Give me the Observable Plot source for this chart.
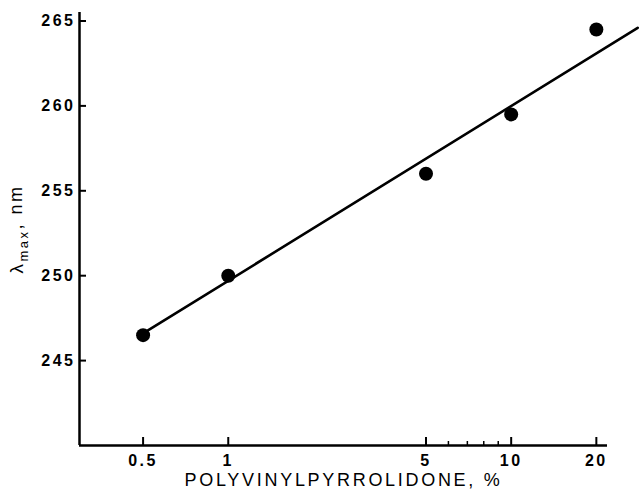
<!DOCTYPE html>
<html>
<head>
<meta charset="utf-8">
<script src="https://cdn.jsdelivr.net/npm/d3@7"></script>
<script src="https://cdn.jsdelivr.net/npm/@observablehq/plot@0.6"></script>
<style>
  body { margin: 0; background: #fff; }
  #chart svg { display: block; }
</style>
</head>
<body>
<div id="chart"></div>
<script>
// Data
const pvpPercent = [0.5, 1, 5, 10, 20];
const lambdaMax = [246.5, 250.0, 256.0, 259.5, 264.5];
// Fitted straight line (log x), endpoints as drawn
const fitPercent = [0.5, 28];
const fitLambda = [246.6, 264.6];
// Axis ticks
const xMajorTicks = [0.5, 1, 5, 10, 20];
const xTickLabels = ["0.5", "1", "5", "10", "20"];
const xMinorTicks = [6, 7, 8, 9];
const yTicks = [245, 250, 255, 260, 265];
const xDomain = [0.298, 21.9];
const yDomain = [240, 265.5];
const xTitle = "POLYVINYLPYRROLIDONE, %";
const yTitle = "λmax, nm";

const points = pvpPercent.map((p, i) => ({p, l: lambdaMax[i]}));
const fit = fitPercent.map((p, i) => ({p, l: fitLambda[i]}));
const xLabels = xMajorTicks.map((v, i) => ({v, t: xTickLabels[i]}));

const chart = Plot.plot({
  width: 639,
  height: 489,
  marginLeft: 79,
  marginRight: 32,
  marginTop: 12,
  marginBottom: 44,
  style: {fontFamily: "'Liberation Sans', Arial, sans-serif", color: "black", background: "white"},
  x: {type: "log", domain: xDomain},
  y: {domain: yDomain},
  marks: [
    Plot.line(fit, {x: "p", y: "l", stroke: "black", strokeWidth: 2.6}),
    Plot.dot(points, {x: "p", y: "l", r: 7, fill: "black"}),
    Plot.ruleX([xDomain[0]], {stroke: "black", strokeWidth: 2.5}),
    Plot.ruleY([yDomain[0]], {stroke: "black", strokeWidth: 2.5}),
    Plot.axisY(yTicks, {
      tickSize: -7, tickPadding: 11, strokeWidth: 2, label: null,
      fontSize: 16, fontWeight: "bold"
    }),
    Plot.axisX(xMajorTicks, {tickSize: -8, strokeWidth: 2, fill: "none", label: null}),
    Plot.axisX(xMinorTicks, {tickSize: -4, strokeWidth: 1.5, fill: "none", label: null}),
    Plot.text(xLabels, {
      x: "v", text: "t", frameAnchor: "bottom", lineAnchor: "top", dy: 9,
      fontSize: 16, fontWeight: "bold", fill: "black"
    }),
    Plot.text([xTitle], {
      text: d => d, frameAnchor: "bottom", lineAnchor: "middle", dy: 35,
      fontSize: 18, fill: "black"
    }),
    Plot.text([yTitle], {
      text: d => d, frameAnchor: "left", textAnchor: "middle", lineAnchor: "middle",
      dx: -62, rotate: -90, fontSize: 18, fill: "black"
    })
  ]
});

// letter spacing for tick labels and titles, subscript for "max"
d3.select(chart).selectAll("text").each(function () {
  const t = this.textContent;
  if (t === xTitle) {
    this.style.letterSpacing = "2.7px";
  } else if (t === yTitle) {
    const sel = d3.select(this);
    sel.text(null);
    sel.style("letter-spacing", "2.5px");
    sel.append("tspan").attr("font-size", 19).text("λ");
    sel.append("tspan").attr("font-size", 13).attr("dy", "0.35em").text("max");
    sel.append("tspan").attr("font-size", 18).attr("dy", "-0.3em").text(",\u00a0nm");
  } else {
    this.style.letterSpacing = "2.5px";
  }
});

document.getElementById("chart").append(chart);
</script>
</body>
</html>
